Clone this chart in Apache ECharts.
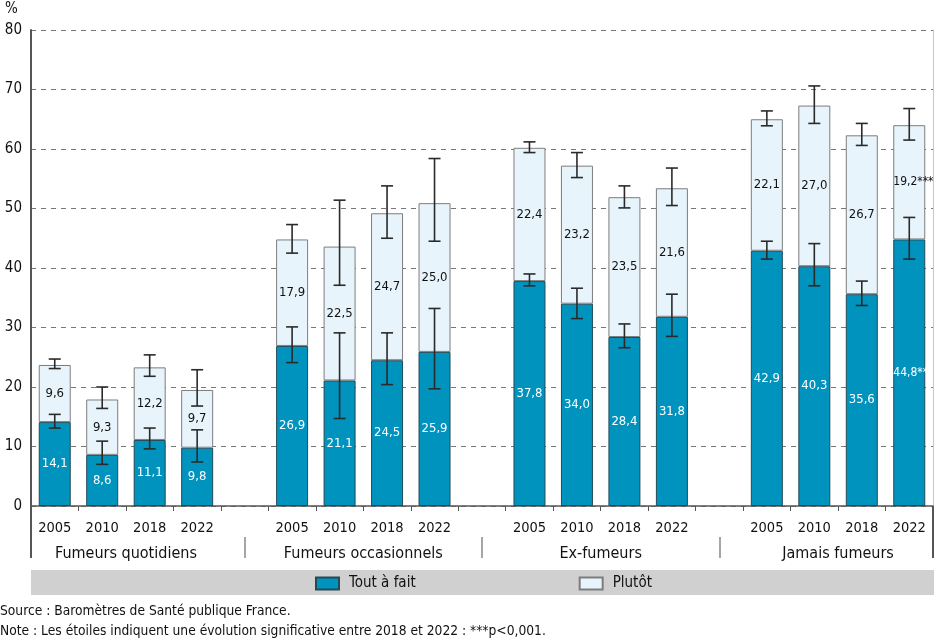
<!DOCTYPE html>
<html><head><meta charset="utf-8">
<script src="https://cdn.jsdelivr.net/npm/echarts@6/dist/echarts.min.js"></script>
<style>html,body{margin:0;padding:0;background:#fff}#c{width:934px;height:639px}</style>
</head><body><div id="c"></div><script>
const groups = ['Fumeurs quotidiens', 'Fumeurs occasionnels', 'Ex-fumeurs', 'Jamais fumeurs'];
const years = ['2005', '2010', '2018', '2022'];
const toutAFait = [14.1, 8.6, 11.1, 9.8, 26.9, 21.1, 24.5, 25.9, 37.8, 34.0, 28.4, 31.8, 42.9, 40.3, 35.6, 44.8];
const plutot = [9.6, 9.3, 12.2, 9.7, 17.9, 22.5, 24.7, 25.0, 22.4, 23.2, 23.5, 21.6, 22.1, 27.0, 26.7, 19.2];
const toutLow = [13.1, 7.0, 9.6, 7.4, 24.1, 14.7, 20.4, 19.7, 37.0, 31.5, 26.6, 28.5, 41.5, 37.0, 33.7, 41.5];
const toutHigh = [15.4, 10.9, 13.1, 12.8, 30.1, 29.1, 29.1, 33.2, 39.0, 36.6, 30.6, 35.6, 44.5, 44.1, 37.8, 48.5];
const totalLow = [23.1, 16.4, 21.8, 16.8, 42.5, 37.1, 45.0, 44.5, 59.4, 55.2, 50.1, 50.5, 63.9, 64.3, 60.6, 61.5];
const totalHigh = [24.7, 20.0, 25.4, 22.9, 47.3, 51.4, 53.8, 58.4, 61.2, 59.4, 53.8, 56.8, 66.4, 70.6, 64.3, 66.8];
const signif = ['', '', '', '', '', '', '', '', '', '', '', '', '', '', '', '***'];
const yMin = 0, yMax = 80, yStep = 10;

const FONT = "'Liberation Sans Narrow', 'DejaVu Sans Condensed', 'Roboto', sans-serif";

// build the category list with an empty slot between groups
const categories = [];
const slotOfBar = [];
groups.forEach((g, gi) => {
  years.forEach((y, yi) => { slotOfBar.push(categories.length); categories.push(y); });
  if (gi < groups.length - 1) categories.push('');
});
const nSlots = categories.length;

const fmt = v => v.toFixed(1).replace('.', ',');

function barData(arr) {
  const out = new Array(nSlots).fill(null);
  arr.forEach((v, i) => {
    const item = { value: v, label: { formatter: fmt(v) + signif[i] } };
    if (signif[i]) {
      item.label.position = 'insideLeft';
      item.label.distance = 0;
      item.label.fontSize = 12;
    }
    out[slotOfBar[i]] = item;
  });
  return out;
}

const errData = [];
toutAFait.forEach((v, i) => {
  errData.push([slotOfBar[i], toutLow[i], toutHigh[i]]);
  errData.push([slotOfBar[i], totalLow[i], totalHigh[i]]);
});

const groupCenters = groups.map((g, gi) => gi * (years.length + 1) + years.length / 2);
const separators = groups.slice(1).map((g, gi) => (gi + 1) * (years.length + 1) - 0.5);

const chart = echarts.init(document.getElementById('c'), null, { renderer: 'canvas' });
chart.setOption({
  animation: false,
  textStyle: { fontFamily: FONT },
  title: [
    { text: '%', left: 0, top: -3, textStyle: { fontSize: 15, fontWeight: 'normal', color: '#111', fontFamily: FONT } },
    { text: 'Source : Baromètres de Santé publique France.', left: 0, top: 604, padding: 0,
      textStyle: { fontSize: 13.7, fontWeight: 'normal', color: '#111', fontFamily: FONT } },
    { text: 'Note : Les étoiles indiquent une évolution significative entre 2018 et 2022 : ***p<0,001.', left: 0, top: 624, padding: 0,
      textStyle: { fontSize: 13.7, fontWeight: 'normal', color: '#111', fontFamily: FONT } }
  ],
  graphic: [
    { type: 'rect', shape: { x: 31, y: 570, width: 903, height: 25 }, style: { fill: '#d0d0d0' }, z: 0 }
  ],
  legend: {
    data: ['Tout à fait', 'Plutôt'],
    left: 315, top: 576, padding: 0,
    itemWidth: 23, itemHeight: 12, itemGap: 163,
    icon: 'rect',
    textStyle: { fontSize: 15, color: '#111', fontFamily: FONT, padding: [0, 0, 0, 5] }
  },
  grid: [
    { left: 31, right: 1, top: 30, bottom: 133, containLabel: false },
    { left: 31, right: 1, top: 537, bottom: 81, containLabel: false }
  ],
  xAxis: [
    {
      type: 'category', data: categories, position: 'bottom', gridIndex: 0,
      axisLine: { show: true, lineStyle: { color: '#555', width: 1.5 } },
      axisTick: { show: true, interval: 0, length: 5, lineStyle: { color: '#555', width: 1 } },
      axisLabel: { interval: 0, fontSize: 14.5, color: '#111', margin: 15, fontFamily: FONT }
    },
    {
      type: 'value', min: 0, max: nSlots, position: 'bottom', gridIndex: 1,
      axisLine: { show: false },
      axisTick: { show: true, inside: true, customValues: separators, length: 21, lineStyle: { color: '#888', width: 1.5 } },
      axisLabel: { show: true, inside: true, customValues: groupCenters, fontSize: 16, color: '#111', margin: -4, fontFamily: FONT,
        formatter: v => groups[Math.round((v - years.length / 2) / (years.length + 1))] },
      splitLine: { show: false }
    },
    {
      type: 'value', min: 0, max: nSlots, position: 'bottom', gridIndex: 0, offset: 0,
      axisLine: { show: false },
      axisTick: { show: true, customValues: [0, nSlots], length: 52, lineStyle: { color: '#555', width: 2 } },
      axisLabel: { show: false },
      splitLine: { show: false }
    }
  ],
  yAxis: [
    {
      type: 'value', min: yMin, max: yMax, interval: yStep, gridIndex: 0,
      axisLine: { show: true, lineStyle: { color: '#555', width: 2 } },
      axisTick: { show: false },
      axisLabel: { fontSize: 15, color: '#111', margin: 9, fontFamily: FONT },
      splitLine: { show: true, lineStyle: { color: '#777', type: [5, 5], width: 1 } }
    },
    {
      type: 'value', min: yMin, max: yMax, position: 'right', gridIndex: 0,
      axisLine: { show: true, lineStyle: { color: '#c8c8c8', width: 1 } },
      axisTick: { show: false }, axisLabel: { show: false }, splitLine: { show: false }
    },
    {
      type: 'value', min: 0, max: 1, gridIndex: 1, show: false
    }
  ],
  series: [
    {
      name: 'Tout à fait', type: 'bar', stack: 'a', barWidth: 32,
      data: barData(toutAFait),
      itemStyle: { color: '#0093be', borderColor: '#234a57', borderWidth: 1 },
      label: { show: true, position: 'inside', color: '#fff', fontSize: 13, fontFamily: FONT }
    },
    {
      name: 'Plutôt', type: 'bar', stack: 'a', barWidth: 32,
      data: barData(plutot),
      itemStyle: { color: '#e8f4fb', borderColor: '#7d7d7d', borderWidth: 1 },
      label: { show: true, position: 'inside', color: '#111', fontSize: 13, fontFamily: FONT }
    },
    {
      name: 'IC', type: 'custom', xAxisIndex: 0, yAxisIndex: 0, z: 5,
      data: errData,
      encode: { x: 0, y: [1, 2] },
      renderItem: function (params, api) {
        const x = api.value(0);
        const lo = api.coord([x, api.value(1)]);
        const hi = api.coord([x, api.value(2)]);
        const cap = 6;
        const style = { stroke: '#2a2a2a', lineWidth: 1.6, fill: null };
        return {
          type: 'group',
          children: [
            { type: 'line', shape: { x1: lo[0], y1: lo[1], x2: hi[0], y2: hi[1] }, style },
            { type: 'line', shape: { x1: lo[0] - cap, y1: lo[1], x2: lo[0] + cap, y2: lo[1] }, style },
            { type: 'line', shape: { x1: hi[0] - cap, y1: hi[1], x2: hi[0] + cap, y2: hi[1] }, style }
          ]
        };
      }
    }
  ]
});
</script></body></html>
